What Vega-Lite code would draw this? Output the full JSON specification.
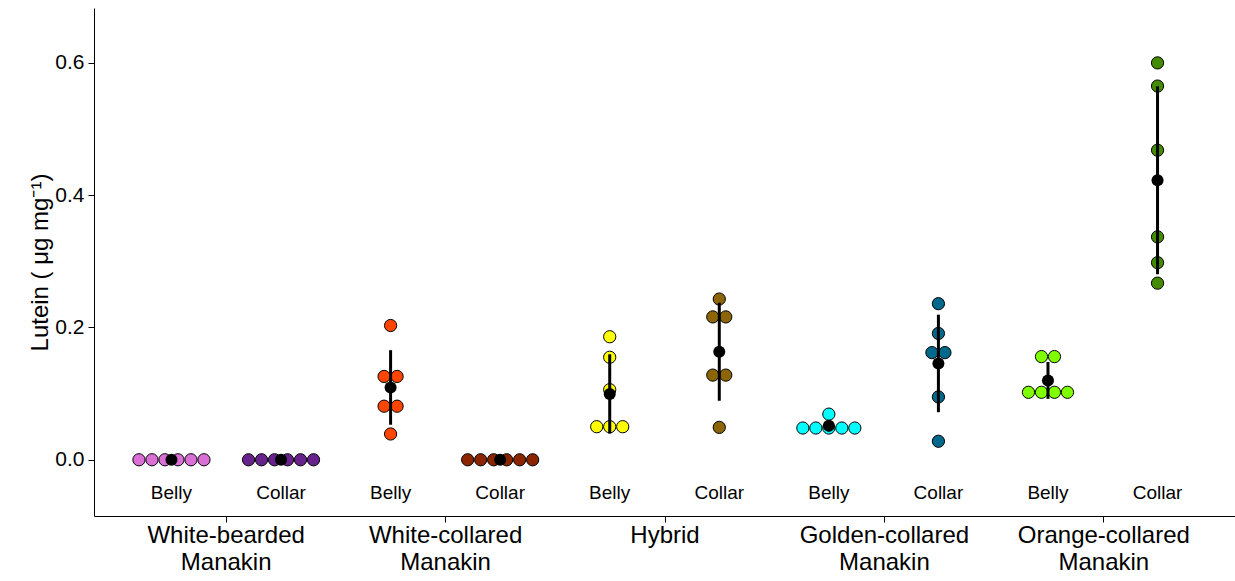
{
  "$schema": "https://vega.github.io/schema/vega-lite/v6.json",
  "width": 1141,
  "height": 508,
  "autosize": "none",
  "padding": {"left": 94, "top": 8, "right": 0, "bottom": 57},
  "background": "white",
  "config": {"view": {"stroke": null}, "font": "Liberation Sans"},
  "data": {"values": [
    {"species": "White-bearded Manakin", "region": "Belly", "lutein": 0},
    {"species": "White-bearded Manakin", "region": "Belly", "lutein": 0},
    {"species": "White-bearded Manakin", "region": "Belly", "lutein": 0},
    {"species": "White-bearded Manakin", "region": "Belly", "lutein": 0},
    {"species": "White-bearded Manakin", "region": "Belly", "lutein": 0},
    {"species": "White-bearded Manakin", "region": "Belly", "lutein": 0},
    {"species": "White-bearded Manakin", "region": "Collar", "lutein": 0},
    {"species": "White-bearded Manakin", "region": "Collar", "lutein": 0},
    {"species": "White-bearded Manakin", "region": "Collar", "lutein": 0},
    {"species": "White-bearded Manakin", "region": "Collar", "lutein": 0},
    {"species": "White-bearded Manakin", "region": "Collar", "lutein": 0},
    {"species": "White-bearded Manakin", "region": "Collar", "lutein": 0},
    {"species": "White-collared Manakin", "region": "Belly", "lutein": 0.203},
    {"species": "White-collared Manakin", "region": "Belly", "lutein": 0.126},
    {"species": "White-collared Manakin", "region": "Belly", "lutein": 0.126},
    {"species": "White-collared Manakin", "region": "Belly", "lutein": 0.081},
    {"species": "White-collared Manakin", "region": "Belly", "lutein": 0.081},
    {"species": "White-collared Manakin", "region": "Belly", "lutein": 0.039},
    {"species": "White-collared Manakin", "region": "Collar", "lutein": 0},
    {"species": "White-collared Manakin", "region": "Collar", "lutein": 0},
    {"species": "White-collared Manakin", "region": "Collar", "lutein": 0},
    {"species": "White-collared Manakin", "region": "Collar", "lutein": 0},
    {"species": "White-collared Manakin", "region": "Collar", "lutein": 0},
    {"species": "White-collared Manakin", "region": "Collar", "lutein": 0},
    {"species": "Hybrid", "region": "Belly", "lutein": 0.186},
    {"species": "Hybrid", "region": "Belly", "lutein": 0.155},
    {"species": "Hybrid", "region": "Belly", "lutein": 0.106},
    {"species": "Hybrid", "region": "Belly", "lutein": 0.05},
    {"species": "Hybrid", "region": "Belly", "lutein": 0.05},
    {"species": "Hybrid", "region": "Belly", "lutein": 0.05},
    {"species": "Hybrid", "region": "Collar", "lutein": 0.243},
    {"species": "Hybrid", "region": "Collar", "lutein": 0.216},
    {"species": "Hybrid", "region": "Collar", "lutein": 0.216},
    {"species": "Hybrid", "region": "Collar", "lutein": 0.128},
    {"species": "Hybrid", "region": "Collar", "lutein": 0.128},
    {"species": "Hybrid", "region": "Collar", "lutein": 0.049},
    {"species": "Golden-collared Manakin", "region": "Belly", "lutein": 0.069},
    {"species": "Golden-collared Manakin", "region": "Belly", "lutein": 0.048},
    {"species": "Golden-collared Manakin", "region": "Belly", "lutein": 0.048},
    {"species": "Golden-collared Manakin", "region": "Belly", "lutein": 0.048},
    {"species": "Golden-collared Manakin", "region": "Belly", "lutein": 0.048},
    {"species": "Golden-collared Manakin", "region": "Belly", "lutein": 0.048},
    {"species": "Golden-collared Manakin", "region": "Collar", "lutein": 0.236},
    {"species": "Golden-collared Manakin", "region": "Collar", "lutein": 0.191},
    {"species": "Golden-collared Manakin", "region": "Collar", "lutein": 0.162},
    {"species": "Golden-collared Manakin", "region": "Collar", "lutein": 0.162},
    {"species": "Golden-collared Manakin", "region": "Collar", "lutein": 0.095},
    {"species": "Golden-collared Manakin", "region": "Collar", "lutein": 0.028},
    {"species": "Orange-collared Manakin", "region": "Belly", "lutein": 0.156},
    {"species": "Orange-collared Manakin", "region": "Belly", "lutein": 0.156},
    {"species": "Orange-collared Manakin", "region": "Belly", "lutein": 0.102},
    {"species": "Orange-collared Manakin", "region": "Belly", "lutein": 0.102},
    {"species": "Orange-collared Manakin", "region": "Belly", "lutein": 0.102},
    {"species": "Orange-collared Manakin", "region": "Belly", "lutein": 0.102},
    {"species": "Orange-collared Manakin", "region": "Collar", "lutein": 0.6},
    {"species": "Orange-collared Manakin", "region": "Collar", "lutein": 0.565},
    {"species": "Orange-collared Manakin", "region": "Collar", "lutein": 0.468},
    {"species": "Orange-collared Manakin", "region": "Collar", "lutein": 0.337},
    {"species": "Orange-collared Manakin", "region": "Collar", "lutein": 0.298},
    {"species": "Orange-collared Manakin", "region": "Collar", "lutein": 0.267}
  ]},
  "transform": [{"calculate": "datum.species + ' ' + datum.region", "as": "group"}],
  "layer": [
    {
      "transform": [
        {"window": [{"op": "row_number", "as": "rn"}, {"op": "count", "as": "n"}], "groupby": ["group", "lutein"], "frame": [null, null]},
        {"calculate": "datum.rn - (datum.n + 1) / 2", "as": "off"}
      ],
      "mark": {"type": "point", "shape": "circle", "filled": true, "size": 150, "stroke": "black", "strokeWidth": 1, "opacity": 1},
      "encoding": {
        "x": {"field": "group", "type": "nominal", "axis": null, "scale": {"type": "point", "padding": 0.707, "domain": ["White-bearded Manakin Belly", "White-bearded Manakin Collar", "White-collared Manakin Belly", "White-collared Manakin Collar", "Hybrid Belly", "Hybrid Collar", "Golden-collared Manakin Belly", "Golden-collared Manakin Collar", "Orange-collared Manakin Belly", "Orange-collared Manakin Collar"]}},
        "xOffset": {"field": "off", "type": "quantitative", "scale": {"domain": [-3, 3], "range": [-39, 39], "zero": false, "nice": false}},
        "y": {"field": "lutein", "type": "quantitative", "scale": {"domain": [-0.085, 0.683], "nice": false, "zero": false},
          "axis": {"values": [0, 0.2, 0.4, 0.6], "format": ".1f", "title": "Lutein ( μg mg⁻¹)", "titleFontSize": 24, "titleFontWeight": "normal", "titleColor": "black", "titlePadding": 2, "labelFontSize": 21, "labelColor": "black", "labelPadding": 4, "tickSize": 6, "tickColor": "black", "domainColor": "black", "grid": false}},
        "fill": {"field": "group", "type": "nominal", "legend": null, "scale": {"domain": ["White-bearded Manakin Belly", "White-bearded Manakin Collar", "White-collared Manakin Belly", "White-collared Manakin Collar", "Hybrid Belly", "Hybrid Collar", "Golden-collared Manakin Belly", "Golden-collared Manakin Collar", "Orange-collared Manakin Belly", "Orange-collared Manakin Collar"], "range": ["#DA70D6", "#68228B", "#FF4500", "#8B2500", "#FFFF00", "#8B6508", "#00FFFF", "#00688B", "#7FFF00", "#458B00"]}}
      }
    },
    {
      "mark": {"type": "errorbar", "extent": "stdev", "color": "black", "thickness": 3},
      "encoding": {
        "x": {"field": "group", "type": "nominal", "axis": null, "scale": {"type": "point", "padding": 0.707, "domain": ["White-bearded Manakin Belly", "White-bearded Manakin Collar", "White-collared Manakin Belly", "White-collared Manakin Collar", "Hybrid Belly", "Hybrid Collar", "Golden-collared Manakin Belly", "Golden-collared Manakin Collar", "Orange-collared Manakin Belly", "Orange-collared Manakin Collar"]}},
        "y": {"field": "lutein", "type": "quantitative", "scale": {"domain": [-0.085, 0.683], "nice": false, "zero": false},
          "axis": {"values": [0, 0.2, 0.4, 0.6], "format": ".1f", "title": "Lutein ( μg mg⁻¹)", "titleFontSize": 24, "titleFontWeight": "normal", "titleColor": "black", "titlePadding": 2, "labelFontSize": 21, "labelColor": "black", "labelPadding": 4, "tickSize": 6, "tickColor": "black", "domainColor": "black", "grid": false}}
      }
    },
    {
      "mark": {"type": "point", "shape": "circle", "filled": true, "color": "black", "size": 145, "opacity": 1},
      "encoding": {
        "x": {"field": "group", "type": "nominal", "axis": null, "scale": {"type": "point", "padding": 0.707, "domain": ["White-bearded Manakin Belly", "White-bearded Manakin Collar", "White-collared Manakin Belly", "White-collared Manakin Collar", "Hybrid Belly", "Hybrid Collar", "Golden-collared Manakin Belly", "Golden-collared Manakin Collar", "Orange-collared Manakin Belly", "Orange-collared Manakin Collar"]}},
        "y": {"aggregate": "mean", "field": "lutein", "type": "quantitative", "scale": {"domain": [-0.085, 0.683], "nice": false, "zero": false},
          "axis": {"values": [0, 0.2, 0.4, 0.6], "format": ".1f", "title": "Lutein ( μg mg⁻¹)", "titleFontSize": 24, "titleFontWeight": "normal", "titleColor": "black", "titlePadding": 2, "labelFontSize": 21, "labelColor": "black", "labelPadding": 4, "tickSize": 6, "tickColor": "black", "domainColor": "black", "grid": false}}
      }
    },
    {
      "transform": [{"aggregate": [{"op": "count", "as": "k"}], "groupby": ["group", "region"]}],
      "mark": {"type": "text", "fontSize": 19, "color": "black", "baseline": "middle", "align": "center"},
      "encoding": {
        "x": {"field": "group", "type": "nominal", "axis": null, "scale": {"type": "point", "padding": 0.707, "domain": ["White-bearded Manakin Belly", "White-bearded Manakin Collar", "White-collared Manakin Belly", "White-collared Manakin Collar", "Hybrid Belly", "Hybrid Collar", "Golden-collared Manakin Belly", "Golden-collared Manakin Collar", "Orange-collared Manakin Belly", "Orange-collared Manakin Collar"]}},
        "y": {"datum": -0.05, "type": "quantitative", "scale": {"domain": [-0.085, 0.683], "nice": false, "zero": false},
          "axis": {"values": [0, 0.2, 0.4, 0.6], "format": ".1f", "title": "Lutein ( μg mg⁻¹)", "titleFontSize": 24, "titleFontWeight": "normal", "titleColor": "black", "titlePadding": 2, "labelFontSize": 21, "labelColor": "black", "labelPadding": 4, "tickSize": 6, "tickColor": "black", "domainColor": "black", "grid": false}},
        "text": {"field": "region"}
      }
    },
    {
      "transform": [{"aggregate": [{"op": "count", "as": "k"}], "groupby": ["species"]}],
      "mark": {"type": "point", "opacity": 0},
      "encoding": {
        "x": {"field": "species", "type": "nominal", "scale": {"type": "point", "padding": 0.6, "domain": ["White-bearded Manakin", "White-collared Manakin", "Hybrid", "Golden-collared Manakin", "Orange-collared Manakin"]},
          "axis": {"orient": "bottom", "title": null, "labelAngle": 0, "labelFontSize": 24, "labelColor": "black", "labelExpr": "split(datum.label, ' ')", "labelLineHeight": 27, "labelPadding": 1, "labelLimit": 400, "labelOverlap": false, "labelBound": false, "tickSize": 6, "tickColor": "black", "domainColor": "black", "grid": false}}
      }
    }
  ],
  "resolve": {"scale": {"x": "independent"}}
}
